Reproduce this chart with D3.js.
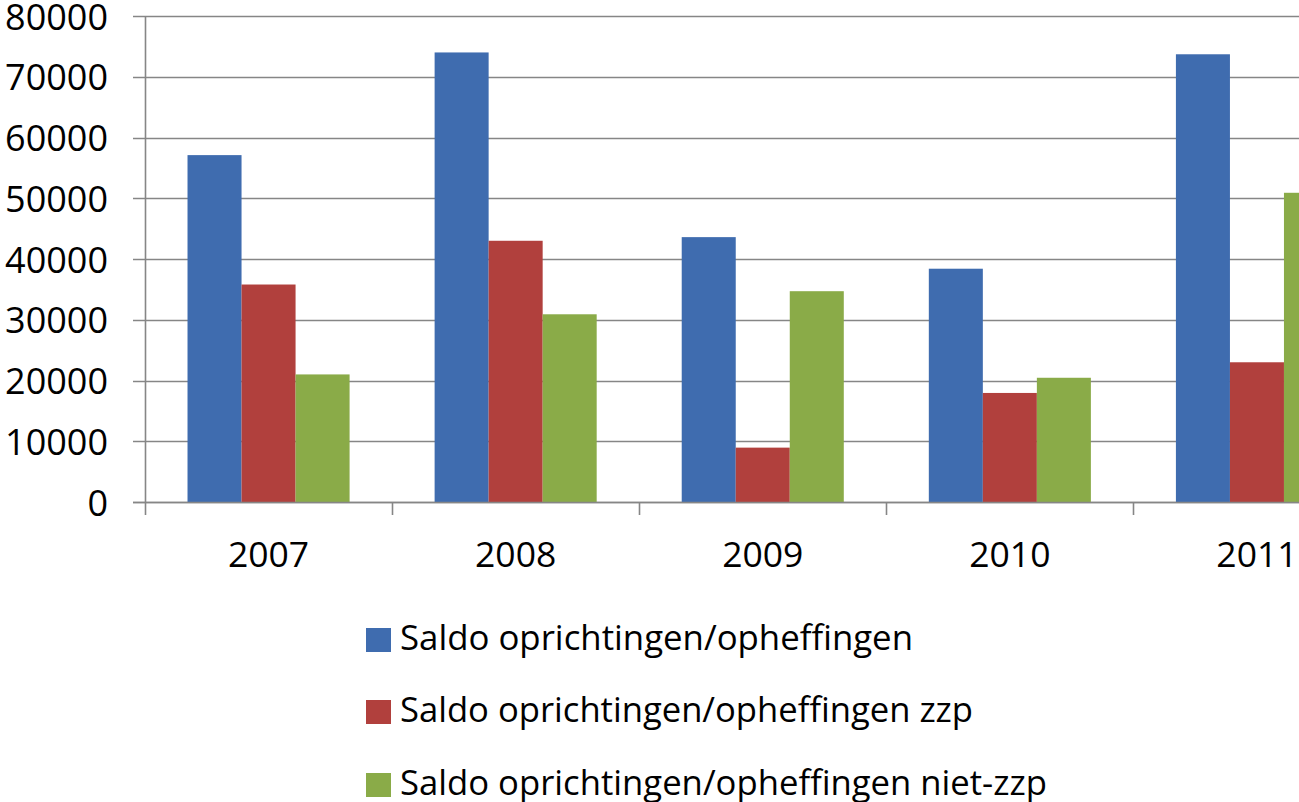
<!DOCTYPE html>
<html>
<head>
<meta charset="utf-8">
<script src="https://cdn.jsdelivr.net/npm/d3@7"></script>
<style>
  html, body { margin: 0; padding: 0; background: #fff; overflow: hidden; }
  svg { display: block; font-family: "Open Sans", "Noto Sans", sans-serif; }
</style>
</head>
<body>
<svg id="chart" width="1299" height="802"></svg>
<script>
const years = ["2007", "2008", "2009", "2010", "2011"];
const seriesNames = [
  "Saldo oprichtingen/opheffingen",
  "Saldo oprichtingen/opheffingen zzp",
  "Saldo oprichtingen/opheffingen niet-zzp"
];
const totalValues = [57100, 74000, 43600, 38400, 73700];
const zzpValues = [35800, 43000, 8950, 17950, 23000];
const nietZzpValues = [21000, 30900, 34700, 20450, 50900];
const yTicks = [0, 10000, 20000, 30000, 40000, 50000, 60000, 70000, 80000];
const colors = ["#3F6CAF", "#B1403D", "#8AAB48"];

const seriesValues = [totalValues, zzpValues, nietZzpValues];
const legendWidths = [513, 573, 647];

const svg = d3.select("#chart");

const y = d3.scaleLinear().domain([0, 80000]).range([502, 16]);
const x0 = d3.scaleBand().domain(years).range([145, 1380.5]).paddingInner(0).paddingOuter(0);
const x1 = d3.scaleBand().domain(d3.range(3)).range([0, x0.bandwidth()]).paddingInner(0).paddingOuter(0.787);

// gridlines
const gridColor = "#868686";
svg.append("g").selectAll("line").data(yTicks).join("line")
  .attr("x1", 133).attr("x2", 1299)
  .attr("y1", d => Math.round(y(d)) + 0.5).attr("y2", d => Math.round(y(d)) + 0.5)
  .attr("stroke", gridColor).attr("stroke-width", 1.6);

// y axis labels
svg.append("g").selectAll("text").data(yTicks).join("text")
  .attr("x", 108).attr("y", d => y(d))
  .attr("text-anchor", "end").attr("dominant-baseline", "central")
  .attr("font-size", 36).attr("fill", "#000")
  .text(d => d);

// bars
const groups = svg.append("g").selectAll("g").data(years).join("g")
  .attr("transform", d => `translate(${x0(d)},0)`);
groups.selectAll("rect").data((d, i) => seriesValues.map((s, k) => ({k, v: s[i]}))).join("rect")
  .attr("x", d => x1(d.k)).attr("width", x1.bandwidth())
  .attr("y", d => y(d.v)).attr("height", d => y(0) - y(d.v))
  .attr("fill", d => colors[d.k]);

// y axis line
svg.append("line").attr("x1", 145.5).attr("x2", 145.5).attr("y1", 16).attr("y2", 502)
  .attr("stroke", gridColor).attr("stroke-width", 1.6);
// zero line
svg.append("line").attr("x1", 133).attr("x2", 1299).attr("y1", 502.5).attr("y2", 502.5)
  .attr("stroke", gridColor).attr("stroke-width", 1.6);

// category ticks
const catTicks = years.map(d => x0(d)).concat([x0.range()[1]]);
svg.append("g").selectAll("line").data(catTicks).join("line")
  .attr("x1", d => Math.round(d) + 0.5).attr("x2", d => Math.round(d) + 0.5)
  .attr("y1", 502).attr("y2", 515)
  .attr("stroke", gridColor).attr("stroke-width", 1.6);

// x labels
svg.append("g").selectAll("text").data(years).join("text")
  .attr("x", d => x0(d) + x0.bandwidth() / 2).attr("y", 567)
  .attr("text-anchor", "middle").attr("font-size", 35.5).attr("fill", "#000")
  .text(d => d);

// legend
const legendTop = [628, 700, 773];
const lg = svg.append("g").selectAll("g").data(seriesNames).join("g");
lg.append("rect")
  .attr("x", 366).attr("y", (d, i) => legendTop[i])
  .attr("width", 25).attr("height", 24)
  .attr("fill", (d, i) => colors[i]);
lg.append("text")
  .attr("x", 400).attr("y", (d, i) => legendTop[i] + 22)
  .attr("font-size", 35).attr("fill", "#000")
  .attr("textLength", (d, i) => legendWidths[i]).attr("lengthAdjust", "spacingAndGlyphs")
  .text(d => d);
</script>
</body>
</html>
